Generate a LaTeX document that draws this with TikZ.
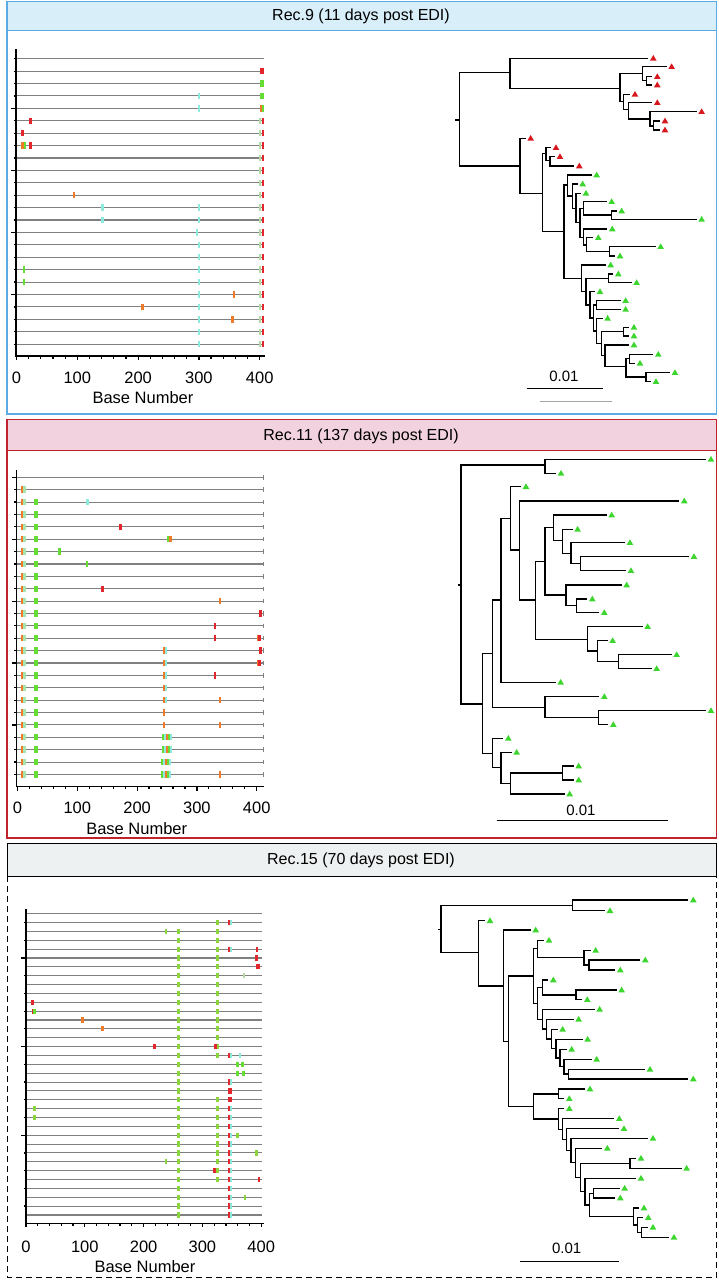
\documentclass[tikz,border=0pt]{standalone}
\usepackage{fontspec}
\setmainfont{Liberation Sans}
\definecolor{pblue}{HTML}{5BAAE3}
\definecolor{hblue}{HTML}{D8EFFA}
\definecolor{pred}{HTML}{C0232B}
\definecolor{hpink}{HTML}{F2D2DE}
\definecolor{hgray}{HTML}{EEF1F1}
\definecolor{mr}{HTML}{E3262B}
\definecolor{mg}{HTML}{66DD33}
\definecolor{mc}{HTML}{8CEBDD}
\definecolor{mo}{HTML}{EE7A2A}
\definecolor{mlg}{HTML}{B5D9A5}
\definecolor{mg2}{HTML}{8CD43C}
\definecolor{mgc}{HTML}{A5E6B0}
\definecolor{tr}{HTML}{D7191E}
\definecolor{tg}{HTML}{3DD62E}
\definecolor{rowgray}{HTML}{808080}
\tikzset{
  br/.style={draw=black,line width=1.3pt,line cap=rect},
  rowline/.style={draw=rowgray,line width=1.1pt},
  axisline/.style={draw=black,line width=1.2pt},
  lab/.style={font=\fontsize{16.5}{18}\selectfont,inner sep=0pt},
  hdr/.style={font=\fontsize{16}{18}\selectfont,inner sep=0pt},
  sbar/.style={font=\fontsize{15}{17}\selectfont,inner sep=0pt}
}
\def\tcol{tg}
\newcommand\tbh[3]{\draw[br] (#1,#2) -- (#3,#2);}
\newcommand\tbv[3]{\draw[br] (#1,#2) -- (#1,#3);}
\newcommand\tlf[3]{\draw[br] (#1,#2) -- ({#3-17},#2);
  \fill[\tcol] ({#3-10},{#2+7}) -- ({#3+10},{#2+7}) -- (#3,{#2-10}) -- cycle;}
\newcommand\hmk[4]{\fill[#4] ({#1-1.25},{#2-#3}) rectangle ({#1+1.25},{#2+#3});}
\begin{document}
\begin{tikzpicture}[x=1pt,y=-1pt]
\useasboundingbox (0,0) rectangle (719,1280);
\fill[white] (0,0) rectangle (719,1280);

% ===== Panel 1 frame =====
\draw[pblue,line width=1.6pt] (6.7,1.5) rectangle (716.5,414);
\draw[pblue,line width=1.6pt,fill=hblue] (6.7,1.5) rectangle (716.5,30.5);
\node[hdr] (h1) at (361,16) {Rec.9 (11 days post EDI)};

% ===== Panel 2 frame =====
\draw[pred,line width=1.8pt] (6.7,419.5) rectangle (716.5,838);
\draw[pred,line width=1.8pt,fill=hpink] (6.7,419.5) rectangle (716.5,450.5);
\node[hdr] (h2) at (361,436) {Rec.11 (137 days post EDI)};

% ===== Panel 3 frame =====
\draw[black,line width=1pt,dash pattern=on 6pt off 4pt] (7,876) -- (7,1277) -- (716.5,1277) -- (716.5,876);
\draw[black,line width=1pt,fill=hgray] (7,843.5) rectangle (716.5,876);
\node[hdr] (h3) at (361,860) {Rec.15 (70 days post EDI)};

% ===== Highlighter 1 =====
\foreach \r in {1,...,24}{\pgfmathsetmacro\yy{58.7+(\r-1)*12.41}
  \draw[rowline] (16,\yy) -- (264,\yy);
  \draw[axisline] (13.5,\yy) -- (16,\yy);}
\foreach \r in {5,10,15,20}{\pgfmathsetmacro\yy{58.7+(\r-1)*12.41}
  \draw[axisline] (11,\yy) -- (16,\yy);}
\foreach \r in {6,...,24}{\pgfmathsetmacro\yy{58.7+(\r-1)*12.41}
  \hmk{260}{\yy}{3.2}{mlg}\hmk{262.8}{\yy}{3.2}{mr}}
\foreach \r/\L in {2/{261.5/mr,263/mr},3/{261.5/mg,263/mg},4/{199/mc,261.5/mg,263/mg},
  5/{199/mc,261/mo,263/mg},6/{30.7/mr},7/{22.3/mr},8/{22.3/mo,25/mg,30.7/mr},12/{74/mo},
  13/{102.7/mc,199/mc},14/{102.3/mc,199/mc},15/{197/mc},16/{199/mc},17/{199/mc},
  18/{24/mg,199/mc},19/{24/mg,199/mc},20/{199/mc,234/mo},21/{142.7/mo,199/mc},
  22/{199/mc,232.7/mo},23/{199/mc},24/{199/mc}}{
  \pgfmathsetmacro\yy{58.7+(\r-1)*12.41}
  \foreach \x/\c in \L {\hmk{\x}{\yy}{3.2}{\c}}}
\draw[axisline] (16,49) -- (16,356) -- (265,356);
\foreach \b in {0,20,...,400}{\pgfmathsetmacro\xx{16.5+0.608*\b}
  \draw[axisline] (\xx,356) -- (\xx,358.5);}
\foreach \b in {0,100,...,400}{\pgfmathsetmacro\xx{16.5+0.608*\b}
  \draw[axisline] (\xx,356) -- (\xx,360);
  \node[lab] at (\xx,378) {\b};}
\node[lab] (bn1) at (143,398) {Base Number};

% ===== Highlighter 2 =====
\foreach \r in {1,...,25}{\pgfmathsetmacro\yy{477.3+(\r-1)*12.38}
  \draw[rowline] (16.7,\yy) -- (263.3,\yy);
  \draw[rowgray,line width=0.6pt] (263.3,\yy-2.2) -- (263.3,\yy+2.2);
  \draw[axisline] (14,\yy) -- (16.7,\yy);}
\foreach \r in {1,6,11,16,21}{\pgfmathsetmacro\yy{477.3+(\r-1)*12.38}
  \draw[axisline] (11.5,\yy) -- (16.7,\yy);}
\foreach \r in {2,...,25}{\pgfmathsetmacro\yy{477.3+(\r-1)*12.38}
  \hmk{22}{\yy}{3.2}{mo}\hmk{24.3}{\yy}{3.2}{mgc}}
\foreach \r in {3,...,25}{\pgfmathsetmacro\yy{477.3+(\r-1)*12.38}
  \hmk{35.2}{\yy}{3.2}{mg}\hmk{36.4}{\yy}{3.2}{mg}}
\foreach \r/\L in {3/{87.7/mc},5/{120.7/mr},6/{168.5/mg,170.5/mo},7/{59.3/mg},8/{87/mg},
  10/{102.7/mr},11/{220/mo},12/{260.7/mr},13/{215/mr},14/{215/mr,258/mo,259.5/mr},
  15/{164.3/mo,165.8/mc,260.7/mr},16/{164.3/mo,165.8/mc,258/mo,259.5/mr},
  17/{164.3/mo,165.8/mc,215/mr},18/{164.3/mo,165.8/mc},19/{164.3/mo,165.8/mc,220/mo},
  20/{164/mo},21/{164/mo,220/mo},
  22/{163.5/mg,165.5/mc,167/mo,169/mg,171/mc},
  23/{163.5/mg,165.5/mc,167/mo,169/mg,171/mc},
  24/{162/mg,164/mc,166/mo,168/mg,170/mc},
  25/{162/mg,164/mc,166/mo,168/mg,170/mc,220/mo}}{
  \pgfmathsetmacro\yy{477.3+(\r-1)*12.38}
  \foreach \x/\c in \L {\hmk{\x}{\yy}{3.2}{\c}}}
\draw[axisline] (16.7,470) -- (16.7,786.7) -- (264,786.7);
\foreach \b in {0,20,...,400}{\pgfmathsetmacro\xx{17.5+0.598*\b}
  \draw[axisline] (\xx,786.7) -- (\xx,789.2);}
\foreach \b in {0,100,...,400}{\pgfmathsetmacro\xx{17.5+0.598*\b}
  \draw[axisline] (\xx,786.7) -- (\xx,790.7);
  \node[lab] at (\xx,808.3) {\b};}
\node[lab] (bn2) at (136.7,828.3) {Base Number};

% ===== Highlighter 3 =====
\foreach \r in {1,...,35}{\pgfmathsetmacro\yy{913.7+(\r-1)*8.86}
  \draw[rowline] (26,\yy) -- (262.3,\yy);}
\foreach \r in {2,4,...,34}{\pgfmathsetmacro\yy{913.7+(\r-1)*8.86}
  \draw[axisline] (23.5,\yy) -- (26,\yy);}
\foreach \r in {6,16,26}{\pgfmathsetmacro\yy{913.7+(\r-1)*8.86}
  \draw[axisline] (21,\yy) -- (26,\yy);}
\foreach \r in {3,...,35}{\pgfmathsetmacro\yy{913.7+(\r-1)*8.86}
  \hmk{178.3}{\yy}{2.6}{mg2}}
\foreach \r in {2,...,17,22,23,...,31}{\pgfmathsetmacro\yy{913.7+(\r-1)*8.86}
  \hmk{217.7}{\yy}{2.6}{mg2}}
\foreach \r in {2,5,17,20,23,24,...,35}{\pgfmathsetmacro\yy{913.7+(\r-1)*8.86}
  \hmk{229.3}{\yy}{2.6}{mr}\hmk{231}{\yy}{2.6}{mc}}
\foreach \r/\L in {3/{166/mg2},5/{257/mr},6/{256.7/mr},7/{257.3/mr,259/mr},8/{244/mlg},
  11/{32.7/mr},12/{32.8/mr,34.5/mg},13/{82.7/mo},14/{102.3/mo},16/{154.7/mr,215.3/mr},
  17/{240/mc},18/{237.7/mg,242.7/mg},19/{237.7/mg,243.3/mg},21/{229.3/mr,231/mr},
  22/{229.3/mr,231/mr},23/{34.3/mg2},24/{34.3/mg2},26/{237.3/mg2},28/{256.7/mg2},
  29/{166/mg2},30/{214.3/mr},31/{259/mr},33/{245/mg2}}{
  \pgfmathsetmacro\yy{913.7+(\r-1)*8.86}
  \foreach \x/\c in \L {\hmk{\x}{\yy}{2.6}{\c}}}
\draw[axisline] (26,909.3) -- (26,1223.3) -- (264,1223.3);
\foreach \b in {0,20,...,400}{\pgfmathsetmacro\xx{26+0.588*\b}
  \draw[axisline] (\xx,1223.3) -- (\xx,1225.8);}
\foreach \b in {0,100,...,400}{\pgfmathsetmacro\xx{26+0.588*\b}
  \draw[axisline] (\xx,1223.3) -- (\xx,1227.3);
  \node[lab] at (\xx,1246.7) {\b};}
\node[lab] (bn3) at (145,1266.7) {Base Number};

% ===== Tree 1 =====
\begin{scope}[shift={(420,40)},x=0.3333pt,y=-0.3333pt]
\def\tcol{tr}
\tbh{108}{240}{118}\tbv{118}{98}{378}
\tbh{118}{98}{270}\tbv{270}{55}{145}
\tlf{270}{55}{700}
\tbh{270}{145}{600}\tbv{600}{100}{185}
\tbh{600}{100}{668}\tbv{668}{80}{122}
\tlf{668}{80}{755}
\tbh{668}{122}{680}\tbv{680}{110}{135}
\tlf{680}{110}{712}\tlf{680}{135}{712}
\tbh{600}{185}{610}\tbv{610}{163}{208}
\tlf{610}{163}{645}
\tbh{610}{208}{625}\tbv{625}{188}{237}
\tlf{625}{188}{712}
\tbh{625}{237}{690}\tbv{690}{215}{258}
\tlf{690}{215}{845}
\tbh{690}{258}{700}\tbv{700}{243}{270}
\tlf{700}{243}{735}\tlf{700}{270}{735}
\tbh{118}{378}{300}\tbv{300}{295}{460}
\tlf{300}{295}{332}
\tbh{300}{460}{368}\tbv{368}{340}{575}
\tbh{368}{340}{378}\tbv{378}{323}{362}
\tlf{378}{323}{408}
\tbh{378}{362}{390}\tbv{390}{350}{378}
\tlf{390}{350}{420}\tlf{390}{378}{478}
\def\tcol{tg}
\tbh{368}{575}{432}\tbv{432}{435}{715}
\tbh{432}{435}{442}\tbv{442}{405}{468}
\tlf{442}{405}{530}
\tbh{442}{468}{458}\tbv{458}{432}{505}
\tlf{458}{432}{488}
\tbh{458}{505}{468}\tbv{468}{460}{548}
\tlf{468}{460}{498}
\tbh{468}{548}{480}\tbv{480}{505}{592}
\tbh{480}{505}{490}\tbv{490}{485}{525}
\tlf{490}{485}{575}
\tbh{490}{525}{575}\tbv{575}{513}{538}
\tlf{575}{513}{605}\tlf{575}{538}{845}
\tbh{480}{592}{490}\tbv{490}{567}{615}
\tlf{490}{567}{577}
\tbh{490}{615}{500}\tbv{500}{593}{634}
\tlf{500}{593}{535}
\tbh{500}{634}{568}\tbv{568}{620}{648}
\tlf{568}{620}{722}\tlf{568}{648}{600}
\tbh{432}{715}{485}\tbv{485}{675}{755}
\tlf{485}{675}{572}
\tbh{485}{755}{498}\tbv{498}{715}{795}
\tbh{498}{715}{565}\tbv{565}{702}{728}
\tlf{565}{702}{595}\tlf{565}{728}{650}
\tbh{498}{795}{510}\tbv{510}{755}{834}
\tlf{510}{755}{540}
\tbh{510}{834}{520}\tbv{520}{795}{873}
\tbh{520}{795}{530}\tbv{530}{782}{808}
\tlf{530}{782}{617}\tlf{530}{808}{617}
\tbh{520}{873}{530}\tbv{530}{835}{911}
\tlf{530}{835}{563}
\tbh{530}{911}{545}\tbv{545}{875}{947}
\tbh{545}{875}{610}\tbv{610}{862}{888}
\tlf{610}{862}{642}\tlf{610}{888}{642}
\tbh{545}{947}{555}\tbv{555}{915}{980}
\tlf{555}{915}{642}
\tbh{555}{980}{618}\tbv{618}{956}{1011}
\tbh{618}{956}{628}\tbv{628}{943}{970}
\tlf{628}{943}{715}\tlf{628}{970}{660}
\tbh{618}{1011}{678}\tbv{678}{998}{1025}
\tlf{678}{998}{765}\tlf{678}{1025}{708}
\node[sbar] (s1) at (432,1010) {0.01};
\draw[black,line width=1.2pt] (320,1045) -- (550,1045);
\draw[gray!70,line width=1.2pt] (360,1085) -- (575,1085);
\end{scope}

% ===== Tree 2 =====
\begin{scope}[shift={(420,450)},x=0.3333pt,y=-0.3333pt]
\def\tcol{tg}
\tbh{115}{405}{123}\tbv{123}{45}{762}
\tbh{123}{45}{375}\tbv{375}{28}{70}
\tlf{375}{28}{873}\tlf{375}{70}{423}
\tbh{123}{762}{188}\tbv{188}{610}{910}
\tbh{188}{610}{218}\tbv{218}{450}{772}
\tbh{218}{450}{243}\tbv{243}{205}{697}
\tbh{243}{205}{272}\tbv{272}{110}{300}
\tlf{272}{110}{318}
\tbh{272}{300}{298}\tbv{298}{153}{450}
\tlf{298}{153}{793}
\tbh{298}{450}{346}\tbv{346}{335}{568}
\tbh{346}{335}{375}\tbv{375}{232}{435}
\tbh{375}{232}{400}\tbv{400}{195}{272}
\tlf{400}{195}{575}
\tbh{400}{272}{428}\tbv{428}{238}{310}
\tlf{428}{238}{473}
\tbh{428}{310}{453}\tbv{453}{278}{340}
\tlf{453}{278}{630}
\tbh{453}{340}{482}\tbv{482}{320}{362}
\tlf{482}{320}{822}\tlf{482}{362}{633}
\tbh{375}{435}{438}\tbv{438}{405}{466}
\tlf{438}{405}{620}
\tbh{438}{466}{469}\tbv{469}{447}{488}
\tlf{469}{447}{517}\tlf{469}{488}{553}
\tbh{346}{568}{503}\tbv{503}{530}{603}
\tlf{503}{530}{683}
\tbh{503}{603}{532}\tbv{532}{572}{635}
\tlf{532}{572}{578}
\tbh{532}{635}{595}\tbv{595}{614}{656}
\tlf{595}{614}{770}\tlf{595}{656}{710}
\tlf{243}{697}{422}
\tbh{218}{772}{375}\tbv{375}{740}{803}
\tlf{375}{740}{553}
\tbh{375}{803}{535}\tbv{535}{782}{824}
\tlf{535}{782}{873}\tlf{535}{824}{580}
\tbh{188}{910}{218}\tbv{218}{865}{952}
\tlf{218}{865}{265}
\tbh{218}{952}{243}\tbv{243}{907}{1000}
\tlf{243}{907}{290}
\tbh{243}{1000}{272}\tbv{272}{969}{1032}
\tbh{272}{969}{428}\tbv{428}{948}{990}
\tlf{428}{948}{476}\tlf{428}{990}{476}
\tlf{272}{1032}{449}
\node[sbar] (s2) at (483,1080) {0.01};
\draw[black,line width=1.2pt] (230,1112) -- (743,1112);
\end{scope}

% ===== Tree 3 =====
\begin{scope}[shift={(420,860)},x=0.3333pt,y=-0.3333pt]
\def\tcol{tg}
\tbh{55}{208}{63}\tbv{63}{137}{278}
\tbh{63}{137}{458}\tbv{458}{120}{152}
\tlf{458}{120}{820}\tlf{458}{152}{570}
\tbh{63}{278}{176}\tbv{176}{182}{378}
\tlf{176}{182}{210}
\tbh{176}{378}{250}\tbv{250}{210}{545}
\tlf{250}{210}{347}
\tbh{250}{545}{265}\tbv{265}{348}{740}
\tbh{265}{348}{340}\tbv{340}{266}{430}
\tbh{340}{266}{352}\tbv{352}{241}{292}
\tlf{352}{241}{387}
\tbh{352}{292}{492}\tbv{492}{271}{315}
\tlf{492}{271}{527}
\tbh{492}{315}{507}\tbv{507}{300}{330}
\tlf{507}{300}{676}\tlf{507}{330}{601}
\tbh{340}{430}{352}\tbv{352}{382}{478}
\tbh{352}{382}{367}\tbv{367}{360}{405}
\tlf{367}{360}{400}
\tbh{367}{405}{468}\tbv{468}{390}{419}
\tlf{468}{390}{605}\tlf{468}{419}{502}
\tbh{352}{478}{367}\tbv{367}{448}{507}
\tlf{367}{448}{539}
\tbh{367}{507}{380}\tbv{380}{478}{537}
\tlf{380}{478}{476}
\tbh{380}{537}{395}\tbv{395}{508}{566}
\tlf{395}{508}{428}
\tbh{395}{566}{408}\tbv{408}{538}{594}
\tlf{408}{538}{503}
\tbh{408}{594}{420}\tbv{420}{568}{620}
\tlf{420}{568}{455}
\tbh{420}{620}{432}\tbv{432}{598}{642}
\tlf{432}{598}{530}
\tbh{432}{642}{445}\tbv{445}{628}{657}
\tlf{445}{628}{690}\tlf{445}{657}{820}
\tbh{265}{740}{340}\tbv{340}{702}{777}
\tbh{340}{702}{415}\tbv{415}{687}{716}
\tlf{415}{687}{510}\tlf{415}{716}{448}
\tbh{340}{777}{415}\tbv{415}{746}{808}
\tlf{415}{746}{448}
\tbh{415}{808}{428}\tbv{428}{776}{839}
\tlf{428}{776}{598}
\tbh{428}{839}{440}\tbv{440}{806}{872}
\tlf{440}{806}{612}
\tbh{440}{872}{453}\tbv{453}{835}{908}
\tlf{453}{835}{699}
\tbh{453}{908}{467}\tbv{467}{865}{952}
\tlf{467}{865}{562}
\tbh{467}{952}{482}\tbv{482}{910}{995}
\tbh{482}{910}{630}\tbv{630}{895}{925}
\tlf{630}{895}{663}\tlf{630}{925}{800}
\tbh{482}{995}{495}\tbv{495}{955}{1035}
\tlf{495}{955}{663}
\tbh{495}{1035}{508}\tbv{508}{1000}{1070}
\tbh{508}{1000}{520}\tbv{520}{985}{1014}
\tlf{520}{985}{614}\tlf{520}{1014}{601}
\tbh{508}{1070}{640}\tbv{640}{1044}{1095}
\tlf{640}{1044}{672}
\tbh{640}{1095}{652}\tbv{652}{1073}{1117}
\tlf{652}{1073}{685}
\tbh{652}{1117}{665}\tbv{665}{1102}{1132}
\tlf{665}{1102}{699}\tlf{665}{1132}{762}
\node[sbar] (s3) at (440,1165) {0.01};
\draw[black,line width=1.2pt] (300,1205) -- (598,1205);
\end{scope}
\end{tikzpicture}
\end{document}
